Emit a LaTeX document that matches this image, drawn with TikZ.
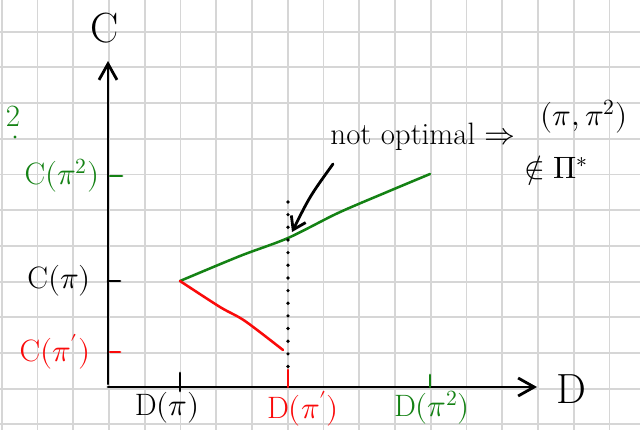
\documentclass[tikz,border=0pt]{standalone}
\usepackage{amsmath}
\usepackage{unicode-math}
\usepackage{xcolor}
\usepackage{tikz}
\usetikzlibrary{arrows.meta,positioning,calc}
\definecolor{verde}{RGB}{20,130,20}
\definecolor{rojo}{RGB}{250,10,10}
\definecolor{rejilla}{RGB}{214,214,214}

\begin{document}
\begin{tikzpicture}[x=0.025cm,y=-0.025cm,
lbl/.style={inner sep=0pt,font=\fontsize{22}{24}\selectfont},
axlbl/.style={inner sep=0pt,font=\fontsize{30}{34}\selectfont},
ax/.style={line width=2pt,line cap=round,-{Straight Barb[length=4mm,width=4.5mm,line width=2pt]}},
tick/.style={line width=2pt,line cap=round},
curva/.style={line width=1.8pt,line cap=round,line join=round},
dots/.style={line width=2.6pt,line cap=round,dash pattern=on 0pt off 9pt}
]
\useasboundingbox (0,0) rectangle (640,430);
\fill[white] (0,0) rectangle (640,430);
% grid
\foreach \i in {0,...,17} \draw[rejilla,line width=1.3pt] (1.7+35.75*\i,0) -- (1.7+35.75*\i,430);
\foreach \j in {1,...,12} \draw[rejilla,line width=1.3pt] (0,-4+35.7*\j) -- (640,-4+35.7*\j);

% axes
\coordinate (o) at (108,387);
\coordinate (ytop) at (108,61);
\coordinate (xend) at (537,387);
\draw[ax] (108,384) -- (ytop);
\draw[ax] (o) -- (xend);
\node[axlbl] (C) at (105,28) {C};
\node[axlbl] (D) at (571,389) {D};

% points
\coordinate (p) at (180,281);
\coordinate (p1) at (283,350);
\coordinate (p2) at (430,174);
\coordinate (q) at (288,238);

% ticks
\draw[tick] (108,281) -- (120,281);
\draw[tick,verde] (110,176) -- (122,176);
\draw[tick,rojo] (110,352) -- (120,352);
\draw[tick] (180,373) -- (180,391);
\draw[tick,rojo] (288,370) -- (288,387);
\draw[tick,verde] (430,375) -- (430,387);

% labels
\node[lbl,verde] (cp2) at (62,176) {C$(\pi^2)$};
\node[lbl] (cp) at (59,281) {C$(\pi)$};
\node[lbl,rojo] (cp1) at (55,352) {C$(\pi')$};
\node[lbl] (dp) at (167,408) {D$(\pi)$};
\node[lbl,rojo] (dp1) at (303,409) {D$(\pi')$};
\node[lbl,verde] (dp2) at (432,408) {D$(\pi^2)$};

% curves
\draw[curva,verde] plot[smooth,tension=0.5] coordinates {(p) (240,256) (q) (338,213) (387,192) (p2)};
\draw[curva,rojo] plot[smooth,tension=0.5] coordinates {(p) (220,307) (245,321) (p1)};
\draw[dots] (288,202) -- (288,370);

% annotation
\node[lbl] (no) at (423,137) {not optimal $\Rightarrow$};
\node[lbl] (par) at (584,117) {$(\pi,\pi^2)$};
\node[lbl,anchor=west] (gam) at (524,171) {$\notin \Pi^{*}$};
\draw[line width=2pt,line cap=round,-{Straight Barb[length=3mm,width=4mm,line width=2pt]}] (333,164) .. controls (310,196) .. (292,232);
\node[lbl,verde] (dos) at (13,116) {2};
\fill[verde] (15,137) circle (1.7);
\end{tikzpicture}
\end{document}
